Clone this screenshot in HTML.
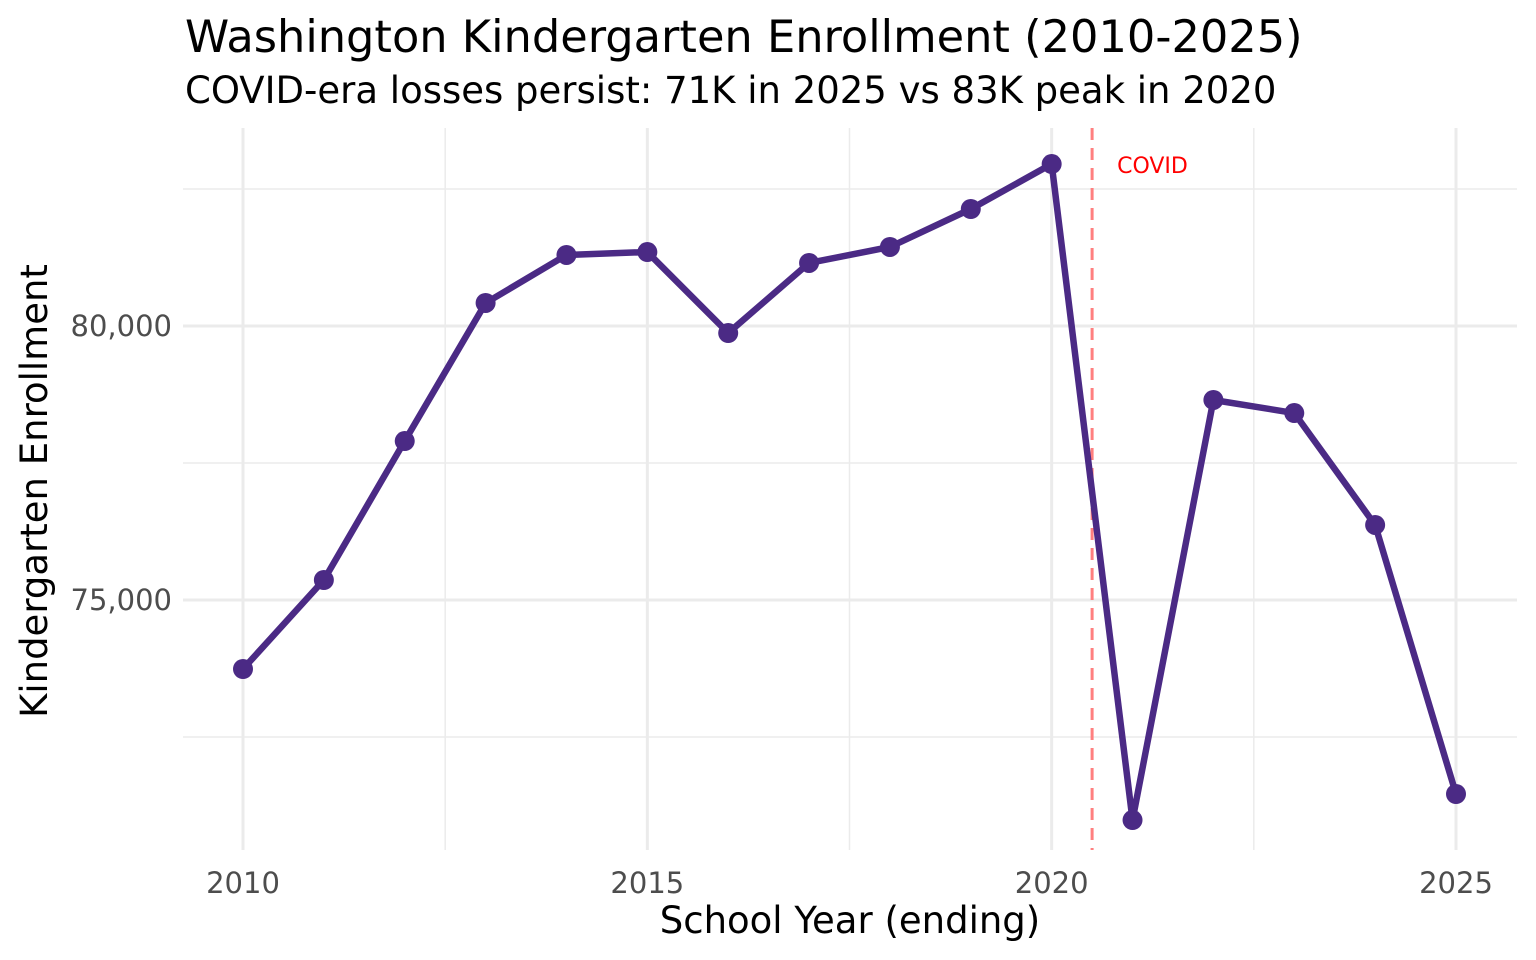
<!DOCTYPE html>
<html><head><meta charset="utf-8"><style>
body{margin:0;background:#fff;}
svg{display:block;font-family:"DejaVu Sans","Liberation Sans",sans-serif;}
</style></head><body>
<svg id="chart" width="1536" height="960">
<text x="185" y="52" font-size="44.7" fill="#000">Washington Kindergarten Enrollment (2010-2025)</text>
<text x="185" y="103" font-size="37" fill="#000">COVID-era losses persist: 71K in 2025 vs 83K peak in 2020</text>
<g id="grid"></g>
<g id="marks"></g>
<text x="850" y="933" font-size="37" text-anchor="middle" fill="#000">School Year (ending)</text>
<text transform="translate(47,491) rotate(-90)" font-size="37" text-anchor="middle" fill="#000">Kindergarten Enrollment</text>
</svg>
<script>
const years=[2010,2011,2012,2013,2014,2015,2016,2017,2018,2019,2020,2021,2022,2023,2024,2025];
const enrollment=[73741,75365,77901,80420,81296,81350,79872,81150,81442,82135,82956,70985,78650,78412,76369,71460];
const xTicks=[2010,2015,2020,2025];
const xMinor=[2012.5,2017.5,2022.5];
const yTicks=[75000,80000];
const yTickLabels=["75,000","80,000"];
const yMinor=[72500,77500,82500];
const covidYear=2020.5;
const covidLabel="COVID";

const X=v=>243+(v-2010)*(1456-243)/15;
const Y=v=>326-(v-80000)*(600-326)/5000;
const ns="http://www.w3.org/2000/svg";
const grid=document.getElementById('grid'),marks=document.getElementById('marks');
function mk(tag,attrs,parent){const e=document.createElementNS(ns,tag);for(const k in attrs)e.setAttribute(k,attrs[k]);parent.appendChild(e);return e;}
const L=183,R=1517,T=128,B=850;
yMinor.forEach(v=>{const e=mk('line',{x1:L,x2:R,y1:Y(v),y2:Y(v),stroke:'#ebebeb','stroke-width':1.5},grid);

});
xMinor.forEach(v=>{const e=mk('line',{x1:X(v),x2:X(v),y1:T,y2:B,stroke:'#ebebeb','stroke-width':1.5},grid);

});
yTicks.forEach((v,i)=>{const e=mk('line',{x1:L,x2:R,y1:Y(v),y2:Y(v),stroke:'#ebebeb','stroke-width':3},grid);


const t=mk('text',{x:172,y:Y(v)+10,'font-size':29,fill:'#4d4d4d','text-anchor':'end'},grid);t.textContent=yTickLabels[i];

});
xTicks.forEach(v=>{const e=mk('line',{x1:X(v),x2:X(v),y1:T,y2:B,stroke:'#ebebeb','stroke-width':3},grid);


const t=mk('text',{x:X(v),y:893,'font-size':29,fill:'#4d4d4d','text-anchor':'middle'},grid);t.textContent=v;

});
const cl=mk('line',{x1:X(covidYear),x2:X(covidYear),y1:T,y2:B,stroke:'#ff7f7f','stroke-width':3,'stroke-dasharray':'12,8'},marks);


const ct=mk('text',{x:X(covidYear)+25,y:173,'font-size':22,fill:'#ff0000'},marks);ct.textContent=covidLabel;


const pl=mk('polyline',{points:years.map((y,i)=>X(y)+','+Y(enrollment[i])).join(' '),fill:'none',stroke:'#4b2a85','stroke-width':6.5,'stroke-linejoin':'round'},marks);


years.forEach((y,i)=>{const c=mk('circle',{cx:X(y),cy:Y(enrollment[i]),r:10,fill:'#4b2a85'},marks);

});
</script>
</body></html>
